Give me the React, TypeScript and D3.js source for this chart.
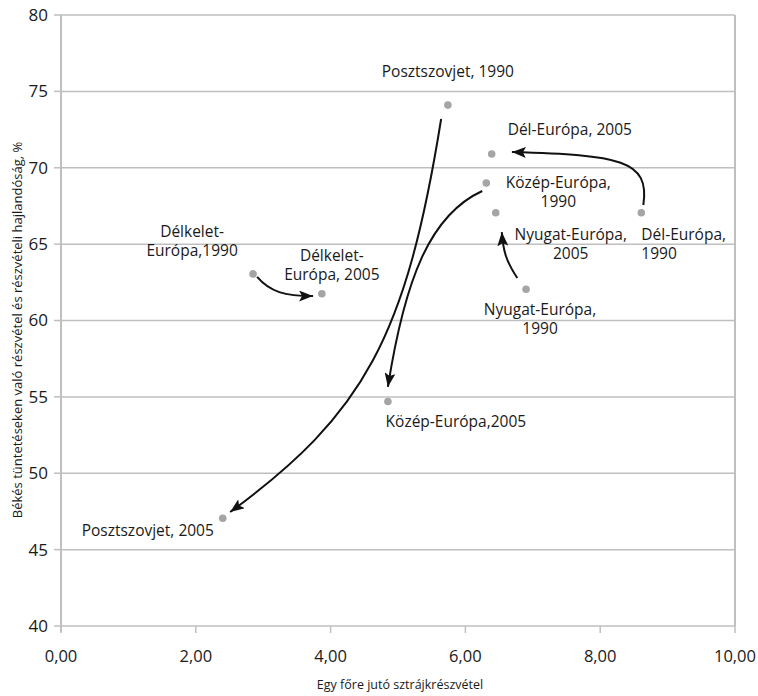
import React, { useEffect } from "react";
import * as d3 from "d3";

const W = 758;
const H = 696;

const xTicks = [0, 2, 4, 6, 8, 10];
const yTicks = [40, 45, 50, 55, 60, 65, 70, 75, 80];

const pointNames = [
  "Posztszovjet, 1990",
  "Dél-Európa, 2005",
  "Közép-Európa, 1990",
  "Nyugat-Európa, 2005",
  "Dél-Európa, 1990",
  "Nyugat-Európa, 1990",
  "Délkelet-Európa, 1990",
  "Délkelet-Európa, 2005",
  "Közép-Európa, 2005",
  "Posztszovjet, 2005",
];
const xValues = [5.74, 6.39, 6.31, 6.45, 8.61, 6.9, 2.85, 3.87, 4.85, 2.4];
const yValues = [74.1, 70.9, 69.0, 67.05, 67.05, 62.05, 63.05, 61.75, 54.7, 47.05];

// label lines per point
const labelLines = [
  ["Posztszovjet, 1990"],
  ["Dél-Európa, 2005"],
  ["Közép-Európa,", "1990"],
  ["Nyugat-Európa,", "2005"],
  ["Dél-Európa,", "1990"],
  ["Nyugat-Európa,", "1990"],
  ["Délkelet-", "Európa,1990"],
  ["Délkelet-", "Európa, 2005"],
  ["Közép-Európa,2005"],
  ["Posztszovjet, 2005"],
];
// label layout (pixel offsets from point, text anchor)
const labelDx = [0, 16, 72, 75, 0, 14, -61, 10, 68, -75];
const labelDy = [-28, -19, 5, 27, 27, 26, -37, -33, 26, 18];
const labelAnchor = ["middle", "start", "middle", "middle", "start", "middle", "middle", "middle", "middle", "middle"];

// arrows as cubic curves in data units: [x0,y0, c1x,c1y, c2x,c2y, x1,y1]
const arrows = [
  [5.64, 73.19, 5.12, 58.9, 4.5, 53.9, 2.51, 47.46],
  [6.25, 68.48, 5.47, 66.91, 5.1, 62.65, 4.85, 55.65],
  [8.64, 67.56, 8.74, 70.51, 8.29, 70.83, 6.69, 71.03],
  [6.77, 62.78, 6.6, 63.9, 6.56, 64.6, 6.54, 65.79],
  [2.91, 62.85, 3.1, 61.87, 3.32, 61.6, 3.74, 61.6],
];

const xTitle = "Egy főre jutó sztrájkrészvétel";
const yTitle = "Békés tüntetéseken való részvétel és részvételi hajlandóság, %";

const FONT = "'Open Sans', 'Noto Sans', sans-serif";
const INK = "#1a1a1a";

export default function App() {
  useEffect(() => {
    document.body.style.margin = "0";
  }, []);

  const x = d3.scaleLinear().domain([0, 10]).range([61, 735]);
  const y = d3.scaleLinear().domain([40, 80]).range([626, 15]);
  const fmt = (v: number) => v.toFixed(2).replace(".", ",");

  const arrowPath = (a: number[]) => {
    const p = d3.path();
    p.moveTo(x(a[0]), y(a[1]));
    p.bezierCurveTo(x(a[2]), y(a[3]), x(a[4]), y(a[5]), x(a[6]), y(a[7]));
    return p.toString();
  };

  return (
    <svg width={W} height={H} style={{ display: "block", background: "#fff" }} fontFamily={FONT}>
      <defs>
        <marker id="ah" viewBox="0 0 14 11" refX="14" refY="5.5" markerWidth="14" markerHeight="11" markerUnits="userSpaceOnUse" orient="auto">
          <path d="M0,0 L14,5.5 L0,11 L3,5.5 Z" fill="#111" />
        </marker>
      </defs>
      {/* gridlines */}
      {yTicks.map((t) => (
        <line key={"g" + t} x1={x(0)} x2={x(10)} y1={y(t)} y2={y(t)} stroke="#bfbfbf" strokeWidth={1.5} />
      ))}
      {/* right border */}
      <line x1={x(10)} x2={x(10)} y1={y(80)} y2={y(40)} stroke="#bfbfbf" strokeWidth={2} />
      {/* y axis */}
      <line x1={x(0)} x2={x(0)} y1={y(80)} y2={y(40) + 6} stroke="#bfbfbf" strokeWidth={2} />
      {yTicks.map((t) => (
        <g key={"yt" + t}>
          <line x1={x(0) - 7} x2={x(0)} y1={y(t)} y2={y(t)} stroke="#bfbfbf" strokeWidth={1.5} />
          <text x={x(0) - 13} y={y(t)} dy="0.35em" textAnchor="end" fontSize={17} fill={INK}>
            {t}
          </text>
        </g>
      ))}
      {/* x axis ticks */}
      {xTicks.map((t) => (
        <g key={"xt" + t}>
          <line x1={x(t)} x2={x(t)} y1={y(40)} y2={y(40) + 7} stroke="#bfbfbf" strokeWidth={1.5} />
          <text x={x(t)} y={y(40) + 30} dy="0.35em" textAnchor="middle" fontSize={16.5} fill={INK}>
            {fmt(t)}
          </text>
        </g>
      ))}
      <text x={400} y={685} dy="0.35em" textAnchor="middle" fontSize={12.5} fill={INK}>
        {xTitle}
      </text>
      <text transform={`translate(17,330) rotate(-90)`} dy="0.35em" textAnchor="middle" fontSize={13} fill={INK}>
        {yTitle}
      </text>
      {/* arrows */}
      {arrows.map((a, i) => (
        <path key={"a" + i} d={arrowPath(a)} fill="none" stroke="#111" strokeWidth={2} markerEnd="url(#ah)" />
      ))}
      {/* points */}
      {pointNames.map((n, i) => (
        <circle key={"p" + i} cx={x(xValues[i])} cy={y(yValues[i])} r={3.8} fill="#a5a5a5">
          <title>{n}</title>
        </circle>
      ))}
      {/* labels */}
      {labelLines.map((lines, i) => (
        <text key={"l" + i} x={x(xValues[i]) + labelDx[i]} y={y(yValues[i]) + labelDy[i]} textAnchor={labelAnchor[i]} fontSize={15.5} fill={INK}>
          {lines.map((ln, j) => (
            <tspan key={j} x={x(xValues[i]) + labelDx[i]} dy={j === 0 ? 0 : 19}>
              {ln}
            </tspan>
          ))}
        </text>
      ))}
    </svg>
  );
}
